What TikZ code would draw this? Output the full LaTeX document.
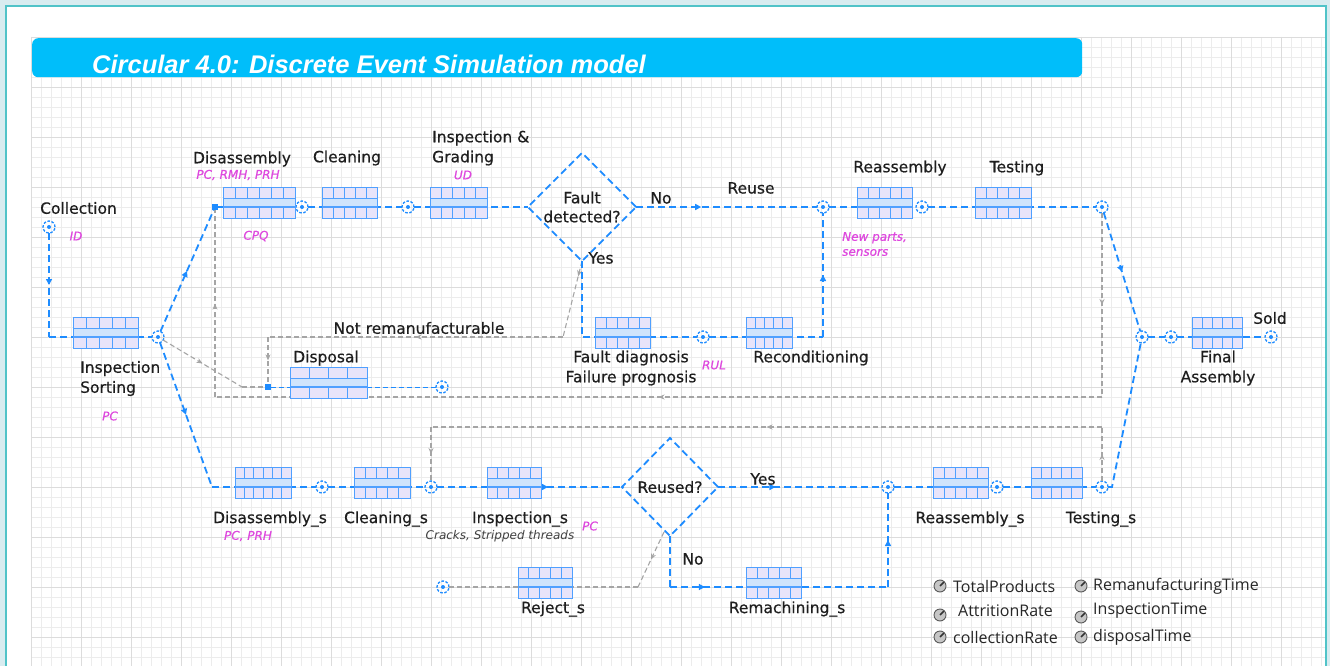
\documentclass[tikz,border=0pt]{standalone}
\usepackage{fontspec}
\setmainfont{DejaVu Sans}[ItalicFont={DejaVu Sans Oblique},BoldFont={DejaVu Sans Bold}]
\newfontface\lblface{DejaVu Sans}[FakeBold=0.45]
\newfontface\magface{DejaVu Sans Oblique}[FakeBold=0.5]
\newfontfamily\titlefont{Liberation Sans}
\newfontfamily\legfont{Open Sans}
\usetikzlibrary{shapes.geometric,calc,arrows.meta,decorations.markings}

\definecolor{flowblue}{RGB}{30,140,255}
\definecolor{blkedge}{RGB}{80,160,255}
\definecolor{blkfill}{RGB}{232,228,250}
\definecolor{blkband}{RGB}{208,228,252}
\definecolor{gflowc}{RGB}{165,165,165}
\definecolor{magc}{RGB}{222,72,222}
\definecolor{titlebg}{RGB}{0,190,250}
\definecolor{framec}{RGB}{80,195,200}
\definecolor{outerbg}{RGB}{216,236,240}
\definecolor{gridmin}{RGB}{236,236,236}
\definecolor{gridmaj}{RGB}{220,220,220}
\definecolor{txt}{RGB}{30,30,30}

\begin{document}
\begin{tikzpicture}[x=1pt,y=-1pt,
  flow/.style={draw=flowblue, line width=1.8pt, dash pattern=on 7pt off 4pt},
  thinflow/.style={draw=flowblue, line width=1pt, dash pattern=on 5pt off 3pt},
  gflow/.style={draw=gflowc, line width=1.1pt, dash pattern=on 5pt off 3pt},
  barrow/.style={postaction={decorate, decoration={markings,
      mark=at position #1 with {\arrow[flowblue]{Triangle[length=6pt,width=6pt]}}}}},
  garrow/.style={postaction={decorate, decoration={markings,
      mark=at position #1 with {\arrow[gflowc]{Stealth[length=6pt,width=5pt]}}}}},
  blk/.style={draw=blkedge, line width=0.9pt, fill=blkfill, minimum height=31pt,
    inner sep=0pt, outer sep=0pt,
    path picture={
      \coordinate (pA) at (path picture bounding box.south west);
      \coordinate (pB) at (path picture bounding box.north east);
      \coordinate (pE) at (pA -| pB);
      \coordinate (pF) at (pB -| pA);
      \coordinate (pC) at ($(pB)!0.355!(pA)$);
      \coordinate (pD) at ($(pB)!0.645!(pA)$);
      \foreach \k [evaluate=\k as \fr using \k/#1] in {1,...,#1}
        \draw[blkedge, line width=0.8pt] ($(pA)!\fr!(pE)$) -- ($(pF)!\fr!(pB)$);
      \fill[blkband] (pA |- pC) rectangle (pB |- pD);
      \draw[blkedge, line width=0.8pt] (pA |- pC) -- (pB |- pC);
      \draw[blkedge, line width=1.1pt] (pA |- pD) -- (pB |- pD);
    }},
  port/.style={circle, draw=flowblue, line width=1.3pt, dash pattern=on 2.6pt off 1.6pt,
    minimum size=12pt, inner sep=0pt, outer sep=0pt,
    path picture={\fill[flowblue] (path picture bounding box.center) circle (2pt);}},
  sq/.style={rectangle, fill=flowblue, minimum size=6pt, inner sep=0pt},
  dia/.style={diamond, draw=flowblue, line width=1.8pt, dash pattern=on 7pt off 4pt,
    inner sep=0pt, outer sep=0pt, align=center, text=txt,
    font=\lblface\fontsize{15.5}{19}\selectfont},
  lbl/.style={font=\lblface\fontsize{15.5}{20}\selectfont, text=txt, inner sep=0pt, align=center},
  mag/.style={font=\magface\fontsize{12}{15}\selectfont, text=magc, inner sep=0pt, align=left},
  note/.style={font=\fontsize{12}{15}\selectfont\itshape, text=black!75, inner sep=0pt},
  leg/.style={font=\legfont\fontsize{16}{20}\selectfont, text=black!85, inner sep=0pt, anchor=west},
  pin/.style={circle, fill=gray!45, draw=black!65, line width=0.9pt, minimum size=12pt,
    inner sep=0pt,
    path picture={\draw[black!80, line width=1.6pt] (path picture bounding box.center) -- ++(4.5,-4.5);}}
]

% canvas, frame and modelling grid
\useasboundingbox (0,0) rectangle (1330,666);
\fill[outerbg] (0,0) rectangle (1330,666);
\fill[white] (6,6) rectangle (1326,672);
\begin{scope}
  \clip (31,37) rectangle (1325,666);
  \foreach \x in {31,41,...,1321} \draw[gridmin, line width=0.8pt] (\x,37) -- (\x,666);
  \foreach \y in {37,47,...,667} \draw[gridmin, line width=0.8pt] (31,\y) -- (1325,\y);
  \foreach \x in {31,81,...,1321} \draw[gridmaj, line width=0.9pt] (\x,37) -- (\x,666);
  \foreach \y in {37,87,...,637} \draw[gridmaj, line width=0.9pt] (31,\y) -- (1325,\y);
\end{scope}
\draw[framec, line width=2pt] (6,672) -- (6,6) -- (1326,6) -- (1326,672);

% title bar
\node[fill=titlebg, rounded corners=6pt, minimum width=1050pt, minimum height=39pt,
  inner sep=0pt, anchor=north west] (title) at (32,38) {};
\node[font=\titlefont\bfseries\itshape\fontsize{25.5}{28}\selectfont, text=white,
  anchor=west, inner sep=0pt] (titletext) at (92,64) {Circular 4.0: Discrete Event Simulation model};

% ports and junction points
\node[port] (src) at (49,227) {};
\node[port] (pIS) at (158,337) {};
\node[sq] (sqD) at (215,207) {};
\node[port] (p1) at (302,207) {};
\node[port] (p2) at (408,207) {};
\node[port] (pRe) at (823,207) {};
\node[port] (p3) at (922,207) {};
\node[port] (pT) at (1102,207) {};
\node[port] (pJ) at (1142,337) {};
\node[port] (p4) at (1171,337) {};
\node[port] (sold) at (1271,337) {};
\node[sq] (sqX) at (268,387) {};
\node[port] (pDsp) at (442,387) {};
\node[port] (p5) at (703,337) {};
\node[port] (p6) at (322,487) {};
\node[port] (p7) at (431,487) {};
\node[port] (p8) at (888,487) {};
\node[port] (p9) at (997,487) {};
\node[port] (pTs) at (1102,487) {};
\node[port] (pRj) at (443,587) {};

% decisions
\node[dia, minimum width=100pt, minimum height=100pt] (FD) at (582,207) {Fault\\detected?};
\node[dia, minimum width=96pt, minimum height=98pt] (RU) at (670,487) {Reused?};

% bend points
\coordinate (c1) at (49,337);
\coordinate (c2) at (212,487);
\coordinate (c3) at (582,337);
\coordinate (c4) at (823,337);
\coordinate (c5) at (670,587);
\coordinate (c6) at (888,587);
\coordinate (c7) at (1112,487);
\coordinate (g1) at (242,387);
\coordinate (g3) at (563,337);
\coordinate (g4) at (268,337);
\coordinate (g5) at (1102,397);
\coordinate (g6) at (215,397);
\coordinate (g7) at (1102,427);
\coordinate (g8) at (431,427);
\coordinate (g9) at (638,587);
\coordinate (g10) at ($(RU.south)+(-6,-4)$);

% grey side flows
\draw[gflow, garrow=0.5] (pIS) -- (g1);
\draw[gflow] (g1) -- (sqX);
\draw[gflow, garrow=0.2] (FD.south) -- (g3);
\draw[gflow, garrow=0.5] (g3) -- (g4);
\draw[gflow, garrow=0.5] (g4) -- (sqX);
\draw[gflow, garrow=0.5] (pT) -- (g5);
\draw[gflow, garrow=0.5] (g5) -- (g6);
\draw[gflow, garrow=0.5] (g6) -- (sqD);
\draw[gflow, garrow=0.5] (pTs) -- (g7);
\draw[gflow, garrow=0.5] (g7) -- (g8);
\draw[gflow, garrow=0.5] (g8) -- (p7);
\draw[gflow, garrow=0.5] (g10) -- (g9);
\draw[gflow] (g9) -- (pRj);

% main blue flows
\draw[flow, barrow=0.5] (src) -- (c1);
\draw[flow] (c1) -- (pIS);
\draw[flow, barrow=0.5] (pIS) -- (sqD);
\draw[flow] (sqD) -- (p1);
\draw[flow] (p1) -- (p2);
\draw[flow] (p2) -- (FD.west);
\draw[flow, barrow=0.36] (FD.east) -- (pRe);
\draw[flow] (pRe) -- (p3);
\draw[flow] (p3) -- (pT);
\draw[flow, barrow=0.5] (pT) -- (pJ);
\draw[flow] (pJ) -- (p4);
\draw[flow] (p4) -- (sold);
\draw[flow] (FD.south) -- (c3) -- (p5);
\draw[flow] (p5) -- (c4);
\draw[flow, barrow=0.5] (c4) -- (pRe);
\draw[flow, barrow=0.5] (pIS) -- (c2);
\draw[flow] (c2) -- (p6);
\draw[flow] (p6) -- (p7);
\draw[flow, barrow=0.6] (p7) -- (RU.west);
\draw[flow, barrow=0.35] (RU.east) -- (p8);
\draw[flow] (p8) -- (p9);
\draw[flow] (p9) -- (pTs);
\draw[flow] (pTs) -- (c7) -- (pJ);
\draw[flow] (RU.south) -- (c5);
\draw[flow, barrow=0.16] (c5) -- (c6);
\draw[flow, barrow=0.5] (c6) -- (p8);
\draw[thinflow] (sqX) -- (pDsp);

% process blocks: centre sits 4.5 above the flow line
\node[blk=5, minimum width=65pt] (insp) at (105.5,332.5) {};
\node[blk=6, minimum width=72pt] (dis) at (259,202.5) {};
\node[blk=5, minimum width=55pt] (cln) at (349.5,202.5) {};
\node[blk=5, minimum width=57pt] (ig) at (458.5,202.5) {};
\node[blk=4, minimum width=77pt] (dsp) at (328.5,382.5) {};
\node[blk=5, minimum width=55pt] (fdg) at (622.5,332.5) {};
\node[blk=5, minimum width=46pt] (rec) at (769,332.5) {};
\node[blk=5, minimum width=55pt] (rea) at (884.5,202.5) {};
\node[blk=5, minimum width=56pt] (tst) at (1003,202.5) {};
\node[blk=5, minimum width=50pt] (fa) at (1217,332.5) {};
\node[blk=6, minimum width=56pt] (diss) at (263,482.5) {};
\node[blk=5, minimum width=56pt] (clns) at (382,482.5) {};
\node[blk=5, minimum width=54pt] (inss) at (514,482.5) {};
\node[blk=5, minimum width=55pt] (reas) at (960.5,482.5) {};
\node[blk=5, minimum width=51pt] (tsts) at (1056.5,482.5) {};
\node[blk=5, minimum width=55pt] (rems) at (773.5,582.5) {};
\node[blk=5, minimum width=54pt] (rejs) at (545,582.5) {};

% labels
\node[lbl, anchor=west] (tCol) at (40,208) {Collection};
\node[mag] (tID) at (76,236) {ID};
\node[lbl, align=left, anchor=west] (tIS) at (80,378.5) {Inspection\\Sorting};
\node[mag] (tPC1) at (110,416) {PC};
\node[lbl] (tDis) at (242,159) {Disassembly};
\node[mag] (tDisA) at (238,175) {PC, RMH, PRH};
\node[mag] (tCPQ) at (256,236) {CPQ};
\node[lbl] (tCln) at (347,158) {Cleaning};
\node[lbl, align=left, anchor=west] (tIG) at (432,148) {Inspection \&\\Grading};
\node[mag] (tUD) at (463,175) {UD};
\node[lbl] (tNo) at (661,198) {No};
\node[lbl] (tReuse) at (751,188) {Reuse};
\node[lbl] (tYes) at (601,258) {Yes};
\node[lbl] (tRea) at (900,168) {Reassembly};
\node[lbl] (tTst) at (1017,168) {Testing};
\node[mag, anchor=west] (tNew) at (842,244) {New parts,\\sensors};
\node[lbl] (tSold) at (1270,318) {Sold};
\node[lbl] (tFA) at (1218,368) {Final\\Assembly};
\node[lbl] (tNR) at (419,328) {Not remanufacturable};
\node[lbl] (tDsp) at (326,358) {Disposal};
\node[lbl] (tFDG) at (631,368) {Fault diagnosis\\Failure prognosis};
\node[mag] (tRUL) at (714,365) {RUL};
\node[lbl] (tRec) at (811,358) {Reconditioning};
\node[lbl] (tDiss) at (270,519) {Disassembly\_s};
\node[mag] (tDissA) at (248,536) {PC, PRH};
\node[lbl] (tClns) at (386,519) {Cleaning\_s};
\node[lbl] (tInss) at (520,519) {Inspection\_s};
\node[mag] (tPC2) at (590,526) {PC};
\node[note] (tCr) at (500,536) {Cracks, Stripped threads};
\node[lbl] (tYes2) at (763,479) {Yes};
\node[lbl] (tReas) at (970,519) {Reassembly\_s};
\node[lbl] (tTsts) at (1101,519) {Testing\_s};
\node[lbl] (tNo2) at (693,559) {No};
\node[lbl] (tRej) at (553,609) {Reject\_s};
\node[lbl] (tRem) at (787,609) {Remachining\_s};

% parameters
\node[pin] (k1) at (940,586) {};
\node[leg] (v1) at (953,586) {TotalProducts};
\node[pin] (k2) at (1081,586) {};
\node[leg] (v2) at (1093,586) {RemanufacturingTime};
\node[pin] (k3) at (940,615) {};
\node[leg] (v3) at (958,611) {AttritionRate};
\node[pin] (k4) at (1081,617) {};
\node[leg] (v4) at (1093,611) {InspectionTime};
\node[pin] (k5) at (940,637) {};
\node[leg] (v5) at (953,637) {collectionRate};
\node[pin] (k6) at (1081,637) {};
\node[leg] (v6) at (1093,637) {disposalTime};
\end{tikzpicture}
\end{document}
